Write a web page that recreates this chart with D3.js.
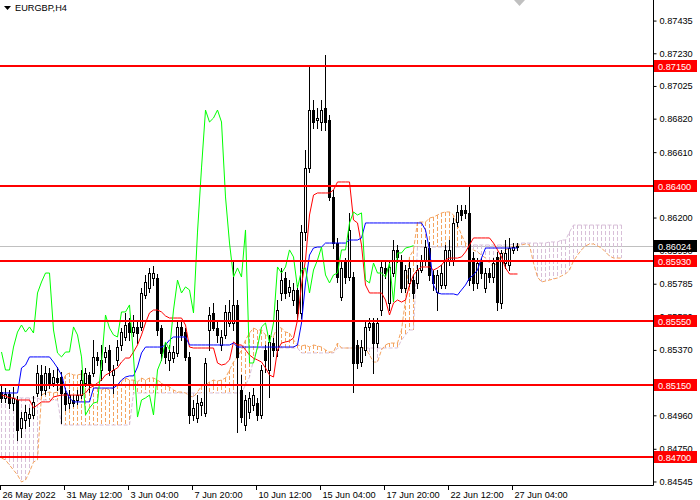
<!DOCTYPE html>
<html><head><meta charset="utf-8">
<script src="https://cdn.jsdelivr.net/npm/d3@7"></script>
<style>body{margin:0;background:#fff}svg{display:block}text{font-family:"Liberation Sans",Arial,sans-serif;font-size:9.2px}</style>
</head><body><svg id="c" width="700" height="500"></svg>
<script>
const symbol = "EURGBP,H4";
const timeLabels = ["26 May 2022","31 May 12:00","3 Jun 04:00","7 Jun 20:00","10 Jun 12:00","15 Jun 04:00","17 Jun 20:00","22 Jun 12:00","27 Jun 04:00"];
const timeLabelBars = [0,16,32,48,64,80,96,112,128];
const priceTicks = [0.87435,0.87230,0.87025,0.86820,0.86610,0.86200,0.85990,0.85785,0.85580,0.85370,0.84960,0.84750,0.84545];
const levels = [0.87150,0.86400,0.85930,0.85550,0.85150,0.84700];
const lastPrice = 0.86024;
const chikouShift = 26;

const open = [
0.85106,0.85069,0.85094,0.85037,0.85056,0.8488,0.84931,0.84943,0.84962,0.851,
0.85213,0.85119,0.85225,0.85163,0.85194,0.852,0.851,0.85037,0.85056,0.85056,
0.85087,0.85163,0.85213,0.85225,0.85326,0.85244,0.85326,0.8537,0.85213,0.85307,
0.85401,0.85451,0.85539,0.85482,0.85514,0.85514,0.85714,0.85758,0.85821,0.85821,
0.85507,0.85388,0.85307,0.85319,0.85351,0.85514,0.85482,0.85326,0.84962,0.84943,
0.85025,0.84975,0.85495,0.85602,0.85507,0.85401,0.85464,0.85539,0.85539,0.85652,
0.85119,0.84899,0.84981,0.85025,0.85037,0.84962,0.8537,0.85244,0.85413,0.8537,
0.85727,0.85821,0.85733,0.85683,0.85746,0.85602,0.86109,0.86511,0.86874,0.86812,
0.86799,0.86887,0.86812,0.86329,0.8604,0.85702,0.85934,0.85827,0.85827,0.85401,
0.85294,0.8537,0.85514,0.85539,0.85413,0.8562,0.85884,0.85664,0.85852,0.85997,
0.85934,0.85758,0.8579,0.85808,0.8579,0.85871,0.85934,0.86009,0.8584,0.85733,
0.85777,0.85777,0.85934,0.85934,0.86172,0.86247,0.86247,0.86229,0.85946,0.8579,
0.85921,0.85758,0.85852,0.85827,0.85953,0.85664,0.85915,0.85902,0.85997,0.86015];
const high = [
0.8515,0.85131,0.85119,0.85138,0.85081,0.84981,0.85025,0.85006,0.85081,0.85275,
0.85275,0.85269,0.85257,0.85244,0.85263,0.85232,0.85131,0.85119,0.85087,0.85119,
0.85244,0.85257,0.85232,0.85432,0.85357,0.85401,0.85388,0.85401,0.85275,0.85432,
0.85507,0.85602,0.8557,0.85589,0.85545,0.85758,0.8584,0.85884,0.85896,0.85846,
0.85526,0.85413,0.85401,0.85395,0.85545,0.85558,0.85507,0.85357,0.85056,0.85087,
0.85069,0.85319,0.85639,0.85664,0.85545,0.85495,0.85652,0.85683,0.85934,0.85683,
0.85213,0.85087,0.85106,0.85131,0.85069,0.85275,0.85401,0.85464,0.85445,0.85683,
0.85884,0.85859,0.85808,0.8579,0.85777,0.86153,0.86624,0.87144,0.86937,0.86887,
0.86937,0.87219,0.86843,0.86373,0.86072,0.85921,0.85946,0.86229,0.85859,0.85432,
0.85432,0.85545,0.8557,0.8557,0.8557,0.85921,0.85934,0.85921,0.86059,0.86028,
0.85965,0.85902,0.85921,0.8584,0.85902,0.85965,0.86059,0.86047,0.85871,0.85871,
0.85902,0.86028,0.86059,0.86197,0.86279,0.86279,0.86279,0.86404,0.85984,0.85946,
0.85946,0.85884,0.85884,0.85946,0.85984,0.85997,0.86059,0.86072,0.8604,0.8604];
const low = [
0.85044,0.85044,0.85006,0.84993,0.84805,0.84824,0.8488,0.84893,0.84943,0.85081,
0.85087,0.85094,0.85131,0.85144,0.85119,0.84912,0.84993,0.85006,0.85018,0.85031,
0.85069,0.85144,0.85106,0.85207,0.85275,0.85181,0.85294,0.85213,0.851,0.85275,
0.8537,0.85432,0.85432,0.85457,0.85413,0.85495,0.85696,0.85733,0.85777,0.85464,
0.85307,0.85288,0.85244,0.85294,0.85332,0.85432,0.85307,0.84912,0.84931,0.84918,
0.84962,0.84956,0.8537,0.85495,0.8542,0.8537,0.85445,0.8552,0.85495,0.84855,
0.84918,0.84868,0.84943,0.84993,0.84931,0.84943,0.85232,0.85075,0.85332,0.85332,
0.85683,0.85696,0.85708,0.85652,0.85558,0.8557,0.86059,0.86486,0.86761,0.86761,
0.86749,0.86749,0.8631,0.86009,0.85796,0.85683,0.8579,0.85808,0.85106,0.85257,
0.85269,0.85338,0.85495,0.85225,0.85388,0.85589,0.85821,0.8562,0.85834,0.85921,
0.85733,0.85733,0.85771,0.85696,0.85758,0.85859,0.85902,0.85808,0.85746,0.8562,
0.85758,0.85758,0.85902,0.85902,0.86147,0.86185,0.86197,0.85777,0.85746,0.85758,
0.85821,0.85733,0.85796,0.85796,0.8562,0.85633,0.85884,0.85871,0.85978,0.85997];
const close = [
0.85069,0.85094,0.85037,0.85069,0.84868,0.84943,0.84981,0.84968,0.85044,0.85225,
0.85119,0.85225,0.85163,0.852,0.85169,0.851,0.85031,0.85087,0.85037,0.85087,
0.85181,0.85225,0.8515,0.85326,0.85307,0.85307,0.85357,0.85244,0.85244,0.85388,
0.85482,0.85526,0.85482,0.85514,0.85476,0.85727,0.85796,0.85852,0.85852,0.85495,
0.85351,0.85326,0.85357,0.85357,0.85514,0.85464,0.85326,0.84962,0.85006,0.85037,
0.85044,0.85288,0.85589,0.85507,0.85464,0.85451,0.85608,0.85608,0.85652,0.85326,
0.84949,0.85056,0.85069,0.85087,0.84962,0.85244,0.85307,0.8542,0.8537,0.8562,
0.85808,0.85727,0.85765,0.85746,0.85602,0.86109,0.86511,0.86874,0.86799,0.86824,
0.86874,0.86799,0.86329,0.8604,0.85827,0.85884,0.85827,0.86122,0.85288,0.85288,
0.85388,0.85514,0.85539,0.85413,0.85539,0.8589,0.85852,0.8589,0.85997,0.85953,
0.85758,0.85871,0.85884,0.85727,0.85871,0.85934,0.86015,0.8584,0.8579,0.8584,
0.85852,0.85997,0.85997,0.86166,0.86235,0.86216,0.86229,0.85808,0.8579,0.85915,
0.85852,0.85852,0.85827,0.85915,0.8567,0.85978,0.85978,0.86009,0.86015,0.86024];
const tenkan = [
0.85087,0.85081,0.85069,0.85069,0.85056,0.85056,0.85056,0.85056,0.85006,0.85025,
0.85044,0.85044,0.85044,0.85075,0.85081,0.85087,0.85087,0.85087,0.85087,0.85087,
0.85087,0.851,0.85131,0.85144,0.85163,0.85181,0.85213,0.85225,0.85244,0.85257,
0.85294,0.85319,0.85319,0.85357,0.85401,0.85464,0.85539,0.85602,0.8562,0.8562,
0.85608,0.85583,0.8557,0.8557,0.8557,0.8557,0.85526,0.85388,0.85382,0.85382,
0.85382,0.85382,0.85382,0.85382,0.85288,0.85275,0.85282,0.85307,0.8542,0.85401,
0.85401,0.8537,0.85338,0.85319,0.85307,0.85294,0.85257,0.85213,0.852,0.8537,
0.85413,0.8542,0.85426,0.85445,0.85558,0.85777,0.85934,0.86216,0.86341,0.86354,
0.86354,0.86354,0.86354,0.86373,0.86423,0.86423,0.86423,0.86423,0.86185,0.86166,
0.86028,0.85777,0.85727,0.85727,0.85727,0.85727,0.85683,0.85589,0.85664,0.85683,
0.8567,0.85683,0.85777,0.8584,0.85871,0.8589,0.8589,0.8589,0.85871,0.85884,
0.85902,0.85934,0.85946,0.85946,0.85946,0.85953,0.85984,0.86028,0.86072,0.86072,
0.86072,0.86072,0.86072,0.8604,0.85997,0.85953,0.85884,0.85846,0.85846,0.85846];
const kijun = [
0.851,0.851,0.851,0.851,0.851,0.85257,0.85275,0.85326,0.85326,0.85326,
0.85326,0.85326,0.85326,0.85294,0.85257,0.85213,0.85119,0.85069,0.85044,0.85044,
0.85044,0.85044,0.85044,0.85131,0.85131,0.85131,0.85131,0.85131,0.85131,0.8515,
0.85181,0.852,0.85207,0.85207,0.85263,0.85351,0.85388,0.85388,0.85388,0.85388,
0.85388,0.85401,0.85432,0.85451,0.85451,0.85451,0.85451,0.85401,0.85401,0.85401,
0.85401,0.85401,0.85401,0.85401,0.85401,0.85401,0.85401,0.85401,0.85413,0.85388,
0.85388,0.85388,0.85388,0.85388,0.85388,0.85388,0.85388,0.85388,0.85388,0.85388,
0.85388,0.85388,0.85388,0.85388,0.85401,0.85539,0.8579,0.85965,0.86009,0.86015,
0.86015,0.8604,0.8604,0.8604,0.8604,0.8604,0.8604,0.86059,0.86059,0.86059,
0.86072,0.86166,0.86166,0.86166,0.86166,0.86166,0.86166,0.86166,0.86166,0.86166,
0.86166,0.86166,0.86166,0.86166,0.86166,0.86166,0.86122,0.85997,0.85777,0.85727,
0.85721,0.85721,0.85721,0.85721,0.85714,0.85746,0.85777,0.85821,0.8584,0.85871,
0.85946,0.86009,0.86009,0.86009,0.86009,0.86009,0.86009,0.86009,0.86009,0.86009];
const spanA = [
0.84692,0.8468,0.84648,0.84617,0.84586,0.84542,0.84554,0.84605,0.84667,0.8468,
0.85087,0.851,0.85106,0.851,0.85106,0.8515,0.85213,0.85225,0.85213,0.85213,
0.85219,0.85207,0.85181,0.85138,0.85131,0.85119,0.85131,0.85119,0.85131,0.8515,
0.85169,0.85194,0.85181,0.85181,0.85169,0.85194,0.85181,0.85194,0.85194,0.85181,
0.85163,0.85144,0.85138,0.85119,0.85106,0.85106,0.851,0.85081,0.85075,0.85106,
0.85144,0.8515,0.85169,0.85181,0.85175,0.85181,0.85194,0.85244,0.85294,0.85326,
0.8537,0.85432,0.85476,0.85507,0.85495,0.85495,0.85464,0.85451,0.85457,0.85514,
0.85507,0.85482,0.85476,0.85432,0.85401,0.85395,0.85401,0.85388,0.85401,0.85395,
0.85388,0.8537,0.85357,0.85357,0.85413,0.85382,0.85382,0.85382,0.85382,0.85382,
0.85382,0.85382,0.85338,0.85294,0.85294,0.8537,0.85401,0.85413,0.85413,0.85413,
0.85495,0.85683,0.85953,0.85997,0.86172,0.86172,0.86172,0.86197,0.86203,0.86216,
0.86229,0.86235,0.86235,0.86216,0.86153,0.86091,0.8604,0.86015,0.85997,0.85984,
0.85965,0.85946,0.85915,0.8589,0.85921,0.85965,0.85997,0.86009,0.86022,0.86028,
0.86028,0.86034,0.86028,0.85915,0.85827,0.85796,0.85802,0.85808,0.85815,0.85821,
0.85834,0.85846,0.85871,0.85928,0.85965,0.85997,0.86022,0.86034,0.86034,0.86022,
0.86009,0.85984,0.85959,0.85946,0.85946,0.85946];
const spanB = [
0.85069,0.85069,0.85069,0.85069,0.85069,0.85069,0.85069,0.85069,0.85069,0.85069,
0.85056,0.85056,0.85056,0.85056,0.85056,0.84899,0.84899,0.84899,0.84899,0.84899,
0.84899,0.84899,0.84899,0.84899,0.84899,0.84899,0.84899,0.84899,0.84899,0.84899,
0.84899,0.84899,0.84899,0.851,0.851,0.851,0.851,0.851,0.851,0.851,
0.851,0.851,0.851,0.851,0.851,0.851,0.851,0.851,0.851,0.851,
0.851,0.851,0.851,0.851,0.851,0.851,0.851,0.851,0.851,0.851,
0.851,0.8515,0.852,0.85307,0.85382,0.85382,0.85382,0.85382,0.85382,0.85382,
0.85382,0.85382,0.85382,0.85382,0.85382,0.85351,0.85351,0.85351,0.85351,0.85351,
0.85351,0.85351,0.85351,0.85351,0.85382,0.85382,0.85382,0.85382,0.85382,0.85382,
0.85382,0.85382,0.85382,0.85382,0.85382,0.85382,0.85382,0.85382,0.85382,0.85382,
0.85432,0.85464,0.85495,0.85495,0.86015,0.86015,0.86015,0.86015,0.86015,0.86015,
0.86015,0.86015,0.86015,0.86015,0.86015,0.86015,0.86015,0.86015,0.86028,0.86028,
0.86028,0.86028,0.86028,0.86028,0.86028,0.86028,0.86028,0.86028,0.86034,0.86034,
0.8604,0.8604,0.8604,0.8604,0.8604,0.8604,0.8604,0.86047,0.86047,0.86047,
0.86059,0.86059,0.86109,0.86153,0.86153,0.86153,0.86153,0.86153,0.86153,0.86153,
0.86153,0.86153,0.86153,0.86153,0.86153,0.86153];

const bullCloud = "#f4a460", bearCloud = "#d8bfd8";
const svg = d3.select("#c");
svg.append("rect").attr("width",700).attr("height",500).attr("fill","#fff");
const plotW = 653, plotH = 485;
const x = d3.scaleLinear().domain([0,155]).range([1,621]);
const y = d3.scaleLinear().domain([0.84523,0.87564]).range([485,0]);
const px = i => Math.round(x(i));

svg.append("defs").append("clipPath").attr("id","plot")
  .append("rect").attr("width",plotW).attr("height",plotH);
const g = svg.append("g").attr("clip-path","url(#plot)");

// bid line
g.append("line").attr("x1",0).attr("x2",plotW)
  .attr("y1",Math.round(y(lastPrice))+0.5).attr("y2",Math.round(y(lastPrice))+0.5)
  .attr("stroke","#c0c0c0").attr("stroke-width",1);

// Ichimoku cloud (hatched vertical dashes)
const cloudIdx = d3.range(spanA.length);
const cloudG = g.append("g");
cloudIdx.forEach(i => {
  const up = spanA[i] >= spanB[i];
  cloudG.append("line")
    .attr("x1",px(i)+0.5).attr("x2",px(i)+0.5)
    .attr("y1",Math.round(y(Math.max(spanA[i],spanB[i])))).attr("y2",Math.round(y(Math.min(spanA[i],spanB[i]))))
    .attr("stroke", up ? bullCloud : bearCloud)
    .attr("stroke-width",1).attr("stroke-dasharray","4,2");
});
const lineB = d3.line().x(i=>px(i)+0.5).y(i=>y(spanB[i]));
const lineA = d3.line().x(i=>px(i)+0.5).y(i=>y(spanA[i]));
g.append("path").attr("d",lineB(cloudIdx)).attr("fill","none").attr("stroke",bearCloud).attr("stroke-dasharray","4,2");
g.append("path").attr("d",lineA(cloudIdx)).attr("fill","none").attr("stroke",bullCloud).attr("stroke-dasharray","4,2");

// candles
const barIdx = d3.range(close.length);
const cg = g.append("g").attr("shape-rendering","crispEdges");
cg.selectAll("line.w").data(barIdx).join("line").attr("class","w")
  .attr("x1",i=>px(i)+0.5).attr("x2",i=>px(i)+0.5)
  .attr("y1",i=>Math.round(y(high[i]))).attr("y2",i=>Math.round(y(low[i]))+1)
  .attr("stroke","#000").attr("stroke-width",1);
cg.selectAll("rect.b").data(barIdx).join("rect").attr("class","b")
  .each(function(i){
    const top = Math.round(y(Math.max(open[i],close[i])));
    const bot = Math.round(y(Math.min(open[i],close[i])));
    const s = d3.select(this);
    if (close[i] > open[i]) {
      s.attr("x",px(i)-0.5).attr("width",2).attr("y",top+0.5).attr("height",Math.max(bot-top,1))
       .attr("fill","#fff").attr("stroke","#000").attr("stroke-width",1);
    } else {
      s.attr("x",px(i)-1).attr("width",3).attr("y",top).attr("height",Math.max(bot-top+1,1))
       .attr("fill","#000");
    }
  });

// Tenkan / Kijun / Chikou
const lt = d3.line().x(i=>px(i)+0.5).y(i=>y(tenkan[i]));
const lk = d3.line().x(i=>px(i)+0.5).y(i=>y(kijun[i]));
g.append("path").attr("d",lt(barIdx)).attr("fill","none").attr("stroke","#ff0000").attr("stroke-width",1);
g.append("path").attr("d",lk(barIdx)).attr("fill","none").attr("stroke","#0000ff").attr("stroke-width",1);
const chIdx = d3.range(close.length - chikouShift);
const lc = d3.line().x(i=>px(i)+0.5).y(i=>y(close[i+chikouShift]));
g.append("path").attr("d",lc(chIdx)).attr("fill","none").attr("stroke","#00ff00").attr("stroke-width",1);

// horizontal levels
g.selectAll("line.lv").data(levels).join("line").attr("class","lv")
  .attr("x1",0).attr("x2",plotW)
  .attr("y1",d=>Math.round(y(d))).attr("y2",d=>Math.round(y(d)))
  .attr("stroke","#ff0000").attr("stroke-width",2);

// axes frame
svg.append("line").attr("x1",653.5).attr("x2",653.5).attr("y1",0).attr("y2",485.5).attr("stroke","#000");
svg.append("line").attr("x1",0).attr("x2",653.5).attr("y1",485.5).attr("y2",485.5).attr("stroke","#000");

// price axis
const ay = svg.append("g").attr("transform","translate(653.5,0)")
  .call(d3.axisRight(y).tickValues(priceTicks).tickSize(3).tickSizeOuter(0).tickPadding(3).tickFormat(d3.format(".5f")));
ay.select(".domain").remove();
ay.selectAll("text").attr("font-size","9.2px").attr("font-family","Liberation Sans, Arial, sans-serif").attr("fill","#000");
ay.selectAll("line").attr("stroke","#000");

// time axis
const ax = svg.append("g").attr("transform","translate(-1,485)")
  .call(d3.axisBottom(x).tickValues(timeLabelBars).tickSize(5).tickPadding(1).tickFormat((d,i)=>timeLabels[i]));
ax.select(".domain").remove();
ax.selectAll("text").attr("text-anchor","start").attr("x",2)
  .attr("font-size","9.2px").attr("font-family","Liberation Sans, Arial, sans-serif").attr("fill","#000");
ax.selectAll("line").attr("stroke","#000");

// level labels
const lb = svg.append("g");
levels.forEach(v=>{
  const yy = Math.round(y(v));
  lb.append("rect").attr("x",654).attr("y",yy-6).attr("width",43).attr("height",12).attr("fill","#ff0000");
  lb.append("text").attr("x",658).attr("y",yy+3.5).attr("fill","#fff").text(d3.format(".5f")(v));
});
{
  const yy = Math.round(y(lastPrice));
  lb.append("rect").attr("x",654).attr("y",yy-6).attr("width",43).attr("height",12).attr("fill","#000");
  lb.append("text").attr("x",658).attr("y",yy+3.5).attr("fill","#fff").text(d3.format(".5f")(lastPrice));
}

// title & markers
svg.append("path").attr("d","M4,6 L11,6 L7.5,10 Z").attr("fill","#000");
svg.append("text").attr("x",15).attr("y",11).attr("fill","#000").text(symbol);
svg.append("path").attr("d","M514,0 L525,0 L519.5,6 Z").attr("fill","#c0c0c0");
</script></body></html>
